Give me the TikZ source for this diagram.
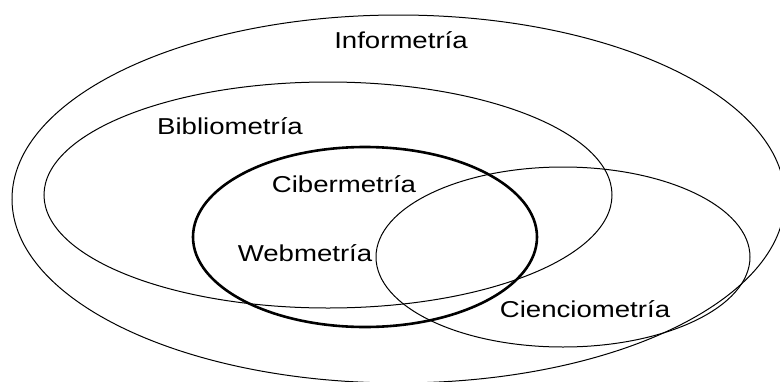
\documentclass[tikz,border=0pt]{standalone}
\usepackage{fontspec}
\setmainfont{Liberation Sans}[FakeStretch=1.2]
\begin{document}
\begin{tikzpicture}[x=1pt,y=-1pt,
  thin line/.style={draw=black,line width=1pt},
  bold line/.style={draw=black,line width=2.6pt},
  lbl/.style={anchor=base,inner sep=0pt,font=\fontsize{23}{23}\selectfont,text=black}]
\useasboundingbox (0,0) rectangle (780,381);
\clip (0,0) rectangle (780,381);
\fill[white] (0,0) rectangle (780,381);
% ellipses
\draw[thin line] (398.5,199) ellipse [x radius=386.5, y radius=184];
\draw[thin line] (328,195) ellipse [x radius=284, y radius=113];
\draw[thin line] (563,257) ellipse [x radius=187, y radius=90];
\draw[bold line] (365,237) ellipse [x radius=172, y radius=90];
% labels
\node[lbl] (info) at (401,48) {Informetría};
\node[lbl] (biblio) at (230,134) {Bibliometría};
\node[lbl] (ciber) at (344,192) {Cibermetría};
\node[lbl] (web) at (305,261) {Webmetría};
\node[lbl] (cien) at (585,317) {Cienciometría};
\end{tikzpicture}
\end{document}
